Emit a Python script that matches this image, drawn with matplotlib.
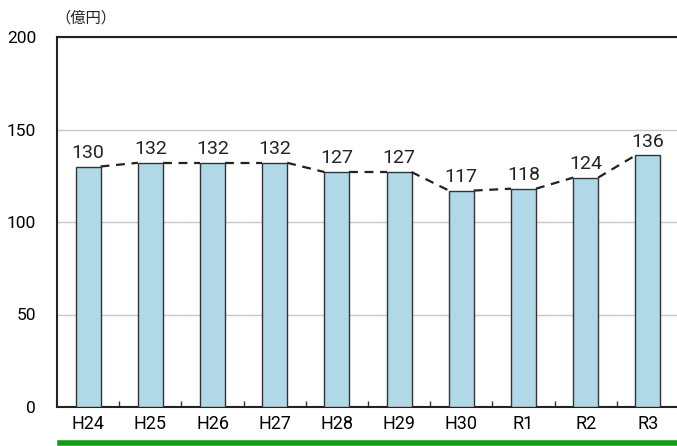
import matplotlib
matplotlib.use("Agg")
import matplotlib.pyplot as plt
from matplotlib.lines import Line2D
from matplotlib.ticker import MultipleLocator

years = ["H24", "H25", "H26", "H27", "H28", "H29", "H30", "R1", "R2", "R3"]
values = [130, 132, 132, 132, 127, 127, 117, 118, 124, 136]
unit = "（億円）"

plt.rcParams['font.family'] = ['Roboto', 'DejaVu Sans']

fig = plt.figure(figsize=(6.77, 4.46), dpi=100)
ax = fig.add_axes([57 / 677, 1 - 407 / 446, 622 / 677, 370 / 446])

x = list(range(len(years)))
w = 0.4
ax.bar(x, values, width=w, color="#b0d8e6", edgecolor="#333333", linewidth=1.0, zorder=3)

# dashed connectors between bar tops
for i in range(len(values) - 1):
    ax.plot([i + w / 2, i + 1 - w / 2], [values[i], values[i + 1]],
            color="#222222", linestyle=(0, (4, 3)), linewidth=1.6, zorder=4)

for i, v in enumerate(values):
    ax.text(i, v + 2.5, str(v), ha="center", va="bottom", fontsize=14, color="#222222")

ax.set_xlim(-0.5, len(years) - 0.5)
ax.set_ylim(0, 200)
ax.yaxis.set_major_locator(MultipleLocator(50))
ax.grid(axis="y", color="#c8c8c8", linewidth=1.0, zorder=0)
ax.set_xticks(x)
ax.set_xticklabels(years, fontsize=13)
ax.set_xticks([i + 0.5 for i in x[:-1]], minor=True)
ax.tick_params(axis="x", which="major", length=0, pad=6)
ax.tick_params(axis="x", which="minor", direction="in", length=4, width=1, color="#333333")
ax.tick_params(axis="y", length=0, pad=15, labelsize=12.5)
for s in ["left", "bottom", "top", "right"]:
    ax.spines[s].set_color("#222222")
    ax.spines[s].set_linewidth(1.5)

fig.text(55 / 677, 1 - 18 / 446, unit, fontsize=11, va="center", ha="left",
         family=["Noto Sans CJK JP", "DejaVu Sans"], color="#222222")

fig.add_artist(Line2D([60 / 677, 1.0], [1 - 443 / 446, 1 - 443 / 446],
                      color="#159a15", linewidth=4, transform=fig.transFigure))

fig.savefig("out.png", dpi=100)
